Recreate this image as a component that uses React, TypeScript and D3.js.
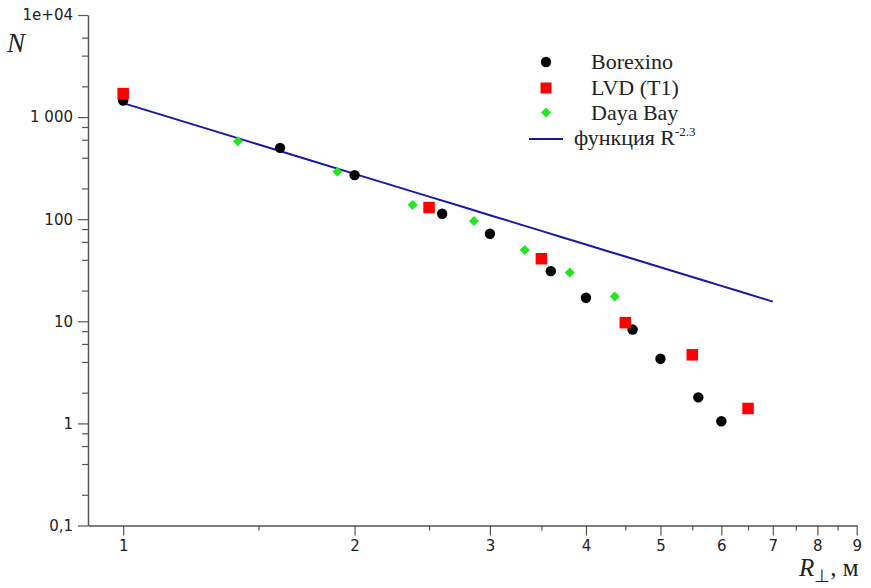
import React, { useEffect, useRef } from "react";
import * as d3 from "d3";

// Borexino
const borexinoR = [1, 1.6, 2, 2.6, 3, 3.6, 4, 4.6, 5, 5.6, 6];
const borexinoN = [1450, 500, 270, 113, 72, 31, 17, 8.3, 4.3, 1.8, 1.05];

// LVD (T1)
const lvdR = [1, 2.5, 3.5, 4.5, 5.5, 6.5];
const lvdN = [1700, 130, 41, 9.7, 4.7, 1.4];

// Daya Bay
const dayaR = [1.41, 1.9, 2.38, 2.86, 3.33, 3.81, 4.36];
const dayaN = [580, 292, 138, 96, 50, 30, 17.5];

// fit N = C * R^-2.3
const fitC = 1370;
const fitPower = -2.3;
const fitR = [1, 7];

const xMajorTicks = [1, 2, 3, 4, 5, 6, 7, 8, 9];
const xMinorTicks = [1.5, 2.5, 3.5, 4.5, 5.5, 6.5, 7.5, 8.5];
const yMajorTicks = [0.1, 1, 10, 100, 1000, 10000];
const yTickLabels = ["0,1", "1", "10", "100", "1 000", "1e+04"];
const yMinorTicks = [
  0.2, 0.4, 0.6, 0.8, 2, 4, 6, 8, 20, 40, 60, 80, 200, 400, 600, 800, 2000,
  4000, 6000,
];

const legendItems = ["Borexino", "LVD (T1)", "Daya Bay"];

export default function App() {
  const svgRef = useRef<SVGSVGElement>(null);

  useEffect(() => {
    const width = 871;
    const height = 588;
    const svg = d3.select(svgRef.current).attr("width", width).attr("height", height);
    svg.selectAll("*").remove();

    const x = d3.scaleLog().domain([0.9, 9]).range([88, 856.7]);
    const y = d3.scaleLog().domain([0.1, 10000]).range([525.5, 15]);

    const axisColor = "#555";
    const tickFont = "DejaVu Sans, sans-serif";
    const serif = "Liberation Serif, Times New Roman, serif";

    // x axis
    const gx = svg
      .append("g")
      .attr("transform", `translate(0, ${y(0.1)})`)
      .call(
        d3
          .axisBottom(x)
          .tickValues(xMajorTicks)
          .tickFormat((d) => String(d))
          .tickSize(10)
          .tickSizeOuter(0)
          .tickPadding(5)
      );
    gx.select(".domain").attr("stroke", axisColor).attr("stroke-width", 1.5);
    gx.selectAll(".tick line").attr("stroke", axisColor).attr("stroke-width", 1.2);
    gx.selectAll(".tick text")
      .attr("fill", "#222")
      .attr("font-family", tickFont)
      .attr("font-size", 15);

    svg
      .append("g")
      .attr("transform", `translate(0, ${y(0.1)})`)
      .call(d3.axisBottom(x).tickValues(xMinorTicks).tickFormat(() => "").tickSize(5))
      .call((g) => g.select(".domain").remove())
      .selectAll(".tick line")
      .attr("stroke", axisColor)
      .attr("stroke-width", 1.2);

    // y axis
    const gy = svg
      .append("g")
      .attr("transform", `translate(${x(0.9)}, 0)`)
      .call(
        d3
          .axisLeft(y)
          .tickValues(yMajorTicks)
          .tickFormat((d, i) => yTickLabels[i])
          .tickSize(10)
          .tickSizeOuter(0)
          .tickPadding(5)
      );
    gy.select(".domain").attr("stroke", axisColor).attr("stroke-width", 1.5);
    gy.selectAll(".tick line").attr("stroke", axisColor).attr("stroke-width", 1.2);
    gy.selectAll(".tick text")
      .attr("fill", "#222")
      .attr("font-family", tickFont)
      .attr("font-size", 15);

    svg
      .append("g")
      .attr("transform", `translate(${x(0.9)}, 0)`)
      .call(d3.axisLeft(y).tickValues(yMinorTicks).tickFormat(() => "").tickSize(6))
      .call((g) => g.select(".domain").remove())
      .selectAll(".tick line")
      .attr("stroke", axisColor)
      .attr("stroke-width", 1.2);

    // axis titles
    svg
      .append("text")
      .attr("x", 7)
      .attr("y", 52)
      .attr("font-family", serif)
      .attr("font-style", "italic")
      .attr("font-size", 27)
      .attr("fill", "#222")
      .text("N");

    const rLabel = svg
      .append("text")
      .attr("x", 799)
      .attr("y", 576)
      .attr("font-family", serif)
      .attr("font-size", 25)
      .attr("fill", "#222");
    rLabel.append("tspan").attr("font-style", "italic").text("R");
    rLabel.append("tspan").attr("dy", 6).attr("font-size", 18).text("\u22A5");
    rLabel.append("tspan").attr("dy", -6).text(", м");

    // fit line
    const fitLine = d3
      .line<number>()
      .x((r) => x(r))
      .y((r) => y(fitC * Math.pow(r, fitPower)));
    const fitColor = "#1818aa";
    svg
      .append("path")
      .datum(d3.range(fitR[0], fitR[1] + 0.001, 0.25))
      .attr("d", fitLine)
      .attr("fill", "none")
      .attr("stroke", fitColor)
      .attr("stroke-width", 2);

    // Borexino
    svg
      .append("g")
      .selectAll("circle")
      .data(borexinoR)
      .join("circle")
      .attr("cx", (d) => x(d))
      .attr("cy", (d, i) => y(borexinoN[i]))
      .attr("r", 5.2)
      .attr("fill", "black");

    // Daya Bay
    const diamond = d3.symbol().type(d3.symbolDiamond2).size(64);
    const green = "#22e622";
    svg
      .append("g")
      .selectAll("path")
      .data(dayaR)
      .join("path")
      .attr("transform", (d, i) => `translate(${x(d)}, ${y(dayaN[i])})`)
      .attr("d", diamond)
      .attr("fill", green);

    // LVD
    const sq = 11.5;
    svg
      .append("g")
      .selectAll("rect")
      .data(lvdR)
      .join("rect")
      .attr("x", (d) => x(d) - sq / 2)
      .attr("y", (d, i) => y(lvdN[i]) - sq / 2)
      .attr("width", sq)
      .attr("height", sq)
      .attr("fill", "#ff0000");

    // legend
    const legend = svg.append("g");
    const lx = 546;
    const rows = [69, 94.5, 120, 145];
    legend.append("circle").attr("cx", lx).attr("cy", rows[0] - 7).attr("r", 5.2).attr("fill", "black");
    legend
      .append("rect")
      .attr("x", lx - 5.5)
      .attr("y", rows[1] - 6.5 - 5.5)
      .attr("width", 11)
      .attr("height", 11)
      .attr("fill", "#ff0000");
    legend
      .append("path")
      .attr("transform", `translate(${lx}, ${rows[2] - 7.5})`)
      .attr("d", diamond)
      .attr("fill", green);
    legend
      .append("line")
      .attr("x1", 529)
      .attr("x2", 563)
      .attr("y1", rows[3] - 6)
      .attr("y2", rows[3] - 6)
      .attr("stroke", fitColor)
      .attr("stroke-width", 2);

    legend
      .selectAll("text.item")
      .data(legendItems)
      .join("text")
      .attr("class", "item")
      .attr("x", 591)
      .attr("y", (d, i) => rows[i])
      .attr("font-family", serif)
      .attr("font-size", 22)
      .attr("fill", "#222")
      .text((d) => d);

    const fn = legend
      .append("text")
      .attr("x", 574)
      .attr("y", rows[3])
      .attr("font-family", serif)
      .attr("font-size", 22)
      .attr("fill", "#222");
    fn.append("tspan").text("функция R");
    fn.append("tspan").attr("dy", -9).attr("font-size", 13).text("-2.3");
  }, []);

  return (
    <div>
      <svg ref={svgRef} style={{ position: "absolute", left: 0, top: 0, background: "white" }}></svg>
    </div>
  );
}
